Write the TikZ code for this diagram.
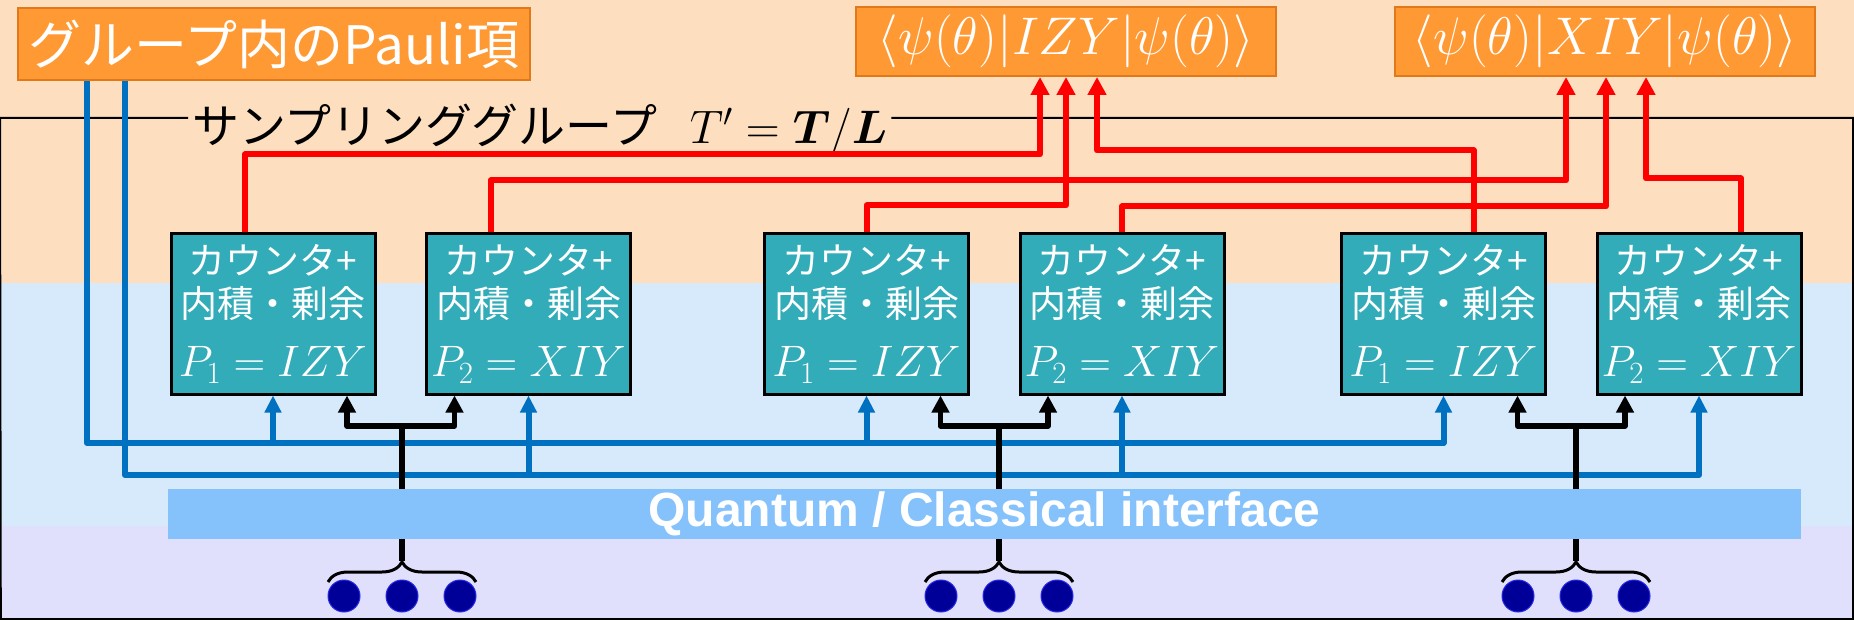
\RequirePackage{fix-cm}
\documentclass[tikz,border=0pt]{standalone}
\usepackage{amsmath}
\usepackage{bm}
\usepackage{fontspec}
\setmainfont{Noto Sans CJK JP}
\newfontfamily\ifacefont{Liberation Sans}
\usetikzlibrary{arrows.meta,decorations.pathreplacing}

\definecolor{peach}{RGB}{253,223,192}
\definecolor{skyband}{RGB}{214,234,252}
\definecolor{lavender}{RGB}{224,224,252}
\definecolor{orangebox}{RGB}{255,153,51}
\definecolor{orangeedge}{RGB}{225,120,25}
\definecolor{tealbox}{RGB}{51,172,185}
\definecolor{ifaceblue}{RGB}{133,194,252}
\definecolor{wireblue}{RGB}{0,112,192}
\definecolor{qubitblue}{RGB}{0,0,153}
\definecolor{qubitedge}{RGB}{40,40,230}

\tikzset{
  orangelabel/.style={draw=orangeedge, line width=2pt, fill=orangebox, text=white, inner sep=0pt},
  unit/.style={draw=black, line width=3pt, fill=tealbox, text=white, align=center,
    minimum width=204pt, minimum height=160pt, inner sep=0pt, font=\fontsize{37}{43}\selectfont},
  meas/.style={red, line width=6pt, line join=round, -{Triangle[length=18pt,width=18pt]}},
  pwire/.style={wireblue, line width=6pt, line join=round, -{Triangle[length=17pt,width=16pt]}},
  ctrl/.style={black, line width=5.5pt, line join=round},
  brace/.style={decorate, decoration={brace, amplitude=20pt}, line width=3pt},
  qubit/.style={circle, fill=qubitblue, draw=qubitedge, line width=1pt, minimum size=32pt, inner sep=0pt},
}

\begin{document}
\begin{tikzpicture}[x=1pt, y=-1pt]
\useasboundingbox (0,0) rectangle (1854,620);
% background bands
\fill[peach] (0,0) rectangle (1854,283);
\fill[skyband] (0,283) rectangle (1854,526);
\fill[lavender] (0,526) rectangle (1854,620);

% sampling group frame
\node[anchor=base west, inner sep=4pt, font=\fontsize{47}{47}\selectfont] (title) at (188,144)
  {サンプリンググループ\hspace{0.7em}$T' = \bm{T}/\bm{L}$};
\coordinate (tl) at (0,118);
\coordinate (tr) at (1853,118);
\coordinate (bl) at (0.8,619);
\coordinate (br) at (1853,619);
\draw[line width=2pt] (title.west |- tl) -- (tl) -- (bl) -- (br) -- (tr) -- (title.east |- tr);

% labels on top
\node[orangelabel, minimum width=512pt, minimum height=72pt, font=\fontsize{53}{53}\selectfont]
  (pauli) at (274,44.5) {グループ内のPauli項};
\node[orangelabel, minimum width=420pt, minimum height=69pt, font=\fontsize{53}{53}\selectfont]
  (ketA) at (1066,41.5) {$\langle\psi(\theta)|IZY|\psi(\theta)\rangle$};
\node[orangelabel, minimum width=420pt, minimum height=69pt, font=\fontsize{53}{53}\selectfont]
  (ketB) at (1605,41.5) {$\langle\psi(\theta)|XIY|\psi(\theta)\rangle$};

% counter units
\foreach \n/\x/\i/\p in {1/273/1/IZY, 2/528.5/2/XIY, 3/866.5/1/IZY, 4/1122/2/XIY, 5/1443.5/1/IZY, 6/1699/2/XIY}
  \node[unit] (box\n) at (\x,314)
    {カウンタ+\\内積・剰余\\[16pt]{\fontsize{44}{44}\selectfont$P_{\i} = \p$}};

% Pauli term wires
\coordinate (p1) at ([xshift=-187pt]pauli.south);
\coordinate (p2) at ([xshift=-149pt]pauli.south);
\coordinate (bus1) at (0,443);
\coordinate (bus2) at (0,475);
\draw[pwire] (p1) |- (box5.south |- bus1) -- (box5.south);
\draw[pwire] (box1.south |- bus1) -- (box1.south);
\draw[pwire] (box3.south |- bus1) -- (box3.south);
\draw[pwire] (p2) |- (box6.south |- bus2) -- (box6.south);
\draw[pwire] (box2.south |- bus2) -- (box2.south);
\draw[pwire] (box4.south |- bus2) -- (box4.south);

% interface bar
\node[fill=ifaceblue, minimum width=1633pt, minimum height=50pt, inner sep=0pt, text=white,
  font=\ifacefont\bfseries\fontsize{48}{48}\selectfont] (iface) at (984.5,514)
  {Quantum / Classical interface};

% measurement outcomes from each qubit group
\foreach \s/\a/\b in {402/box1/box2, 999/box3/box4, 1576/box5/box6} {
  \coordinate (st) at (\s,0);
  \coordinate (jn) at (\s,426);
  \draw[ctrl] (iface.north -| st) -- (jn);
  \draw[ctrl, -{Triangle[length=17pt,width=17pt]}] (jn) -| ([xshift=74pt]\a.south);
  \draw[ctrl, -{Triangle[length=17pt,width=17pt]}] (jn) -| ([xshift=-74pt]\b.south);
  \draw[ctrl, line width=6pt] (iface.south -| st) -- (\s,561);
  \draw[brace] (\s-74,582) -- (\s+74,582);
  \foreach \d in {-58,0,58}
    \node[qubit] at (\s+\d,596) {};
}

% results to expectation values
\draw[meas] ([xshift=-28pt]box1.north) -- ++(0,-78) -| ([xshift=-26pt]ketA.south);
\draw[meas] ([xshift=-38pt]box2.north) -- ++(0,-52) -| ([xshift=-39pt]ketB.south);
\draw[meas] (box3.north) -- ++(0,-27) -| (ketA.south);
\draw[meas] (box4.north) -- ++(0,-26) -| ([xshift=1pt]ketB.south);
\draw[meas] ([xshift=30pt]box5.north) -- ++(0,-82) -| ([xshift=31pt]ketA.south);
\draw[meas] ([xshift=42pt]box6.north) -- ++(0,-54) -| ([xshift=41pt]ketB.south);
\end{tikzpicture}
\end{document}
